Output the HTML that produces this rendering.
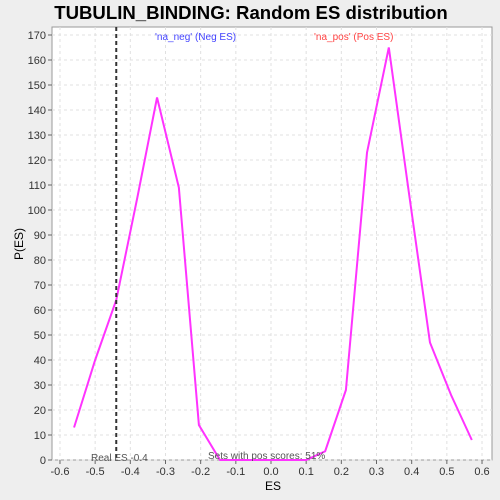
<!DOCTYPE html>
<html><head><meta charset="utf-8"><style>
body{margin:0;background:#eeeeee;font-family:"Liberation Sans",sans-serif}
svg{display:block}
</style></head><body>
<svg id="chart" width="500" height="500" xmlns="http://www.w3.org/2000/svg">
<rect x="0" y="0" width="500" height="500" fill="#eeeeee"/>
<text x="251" y="19" text-anchor="middle" font-size="18.6" font-weight="bold" fill="#000">TUBULIN_BINDING: Random ES distribution</text>
<rect x="52" y="27" width="440" height="433" fill="#fff" stroke="#999"/>
<g id="grid"></g>
<g id="axes"></g>
<polyline id="line" fill="none" stroke="#ff33ff" stroke-width="2"/>
<line id="realEs" stroke="#333" stroke-width="2" stroke-dasharray="4,3"/>
<text x="91" y="461" font-size="10" fill="#555">Real ES -0.4</text>
<text x="208" y="459" font-size="10" fill="#555">Sets with pos scores: 51%</text>
<text x="155" y="40" font-size="10" fill="#4444ff">'na_neg' (Neg ES)</text>
<text x="314" y="40" font-size="10" fill="#ff4444">'na_pos' (Pos ES)</text>
<text x="273" y="490" text-anchor="middle" font-size="12">ES</text>
<text x="23" y="244" text-anchor="middle" font-size="12" transform="rotate(-90 23 244)">P(ES)</text>
</svg>
<script>
const esValues=[-0.56,-0.5,-0.44,-0.38,-0.324,-0.262,-0.205,-0.145,-0.1,-0.05,0,0.05,0.1,0.154,0.213,0.273,0.335,0.392,0.452,0.512,0.571];
const probValues=[13,40,64,105,145,109,14,0,0,0,0,0,0,3.5,28,123,165,107,47,26,8];
const xTicks=[-0.6,-0.5,-0.4,-0.3,-0.2,-0.1,0,0.1,0.2,0.3,0.4,0.5,0.6];
const xTickLabels=["-0.6","-0.5","-0.4","-0.3","-0.2","-0.1","0.0","0.1","0.2","0.3","0.4","0.5","0.6"];
const yTicks=[0,10,20,30,40,50,60,70,80,90,100,110,120,130,140,150,160,170];
const realEs=-0.44;
const xS=v=>271+v*351.7;
const yS=v=>460-v*2.5;
const NS="http://www.w3.org/2000/svg";
const grid=document.getElementById('grid'),axes=document.getElementById('axes');
function mk(tag,attrs,parent){const e=document.createElementNS(NS,tag);for(const k in attrs)e.setAttribute(k,attrs[k]);parent.appendChild(e);return e;}
xTicks.forEach((t,i)=>{
 const x=xS(t);
 const g=mk('line',{x1:x,x2:x,y1:27,y2:460,stroke:'#e0e0e0','stroke-dasharray':'3,3'},grid);
 
 
 const tk=mk('line',{x1:x,x2:x,y1:460,y2:464,stroke:'#666'},axes);
 
 
 const tx=mk('text',{x:x,y:475,'text-anchor':'middle','font-size':'11',fill:'#333'},axes);
 tx.textContent=xTickLabels[i];
 
 
});
yTicks.forEach(t=>{
 const y=yS(t);
 const g=mk('line',{x1:52,x2:492,y1:y,y2:y,stroke:'#e0e0e0','stroke-dasharray':'3,3'},grid);
 
 
 const tk=mk('line',{x1:48,x2:52,y1:y,y2:y,stroke:'#666'},axes);
 
 
 const tx=mk('text',{x:46,y:y+4,'text-anchor':'end','font-size':'11',fill:'#333'},axes);
 tx.textContent=String(t);
 
 
});
document.getElementById('line').setAttribute('points',esValues.map((v,i)=>xS(v)+','+yS(probValues[i])).join(' '));
const r=document.getElementById('realEs');
r.setAttribute('x1',xS(realEs));r.setAttribute('x2',xS(realEs));r.setAttribute('y1',27);r.setAttribute('y2',460);
</script>
</body></html>
